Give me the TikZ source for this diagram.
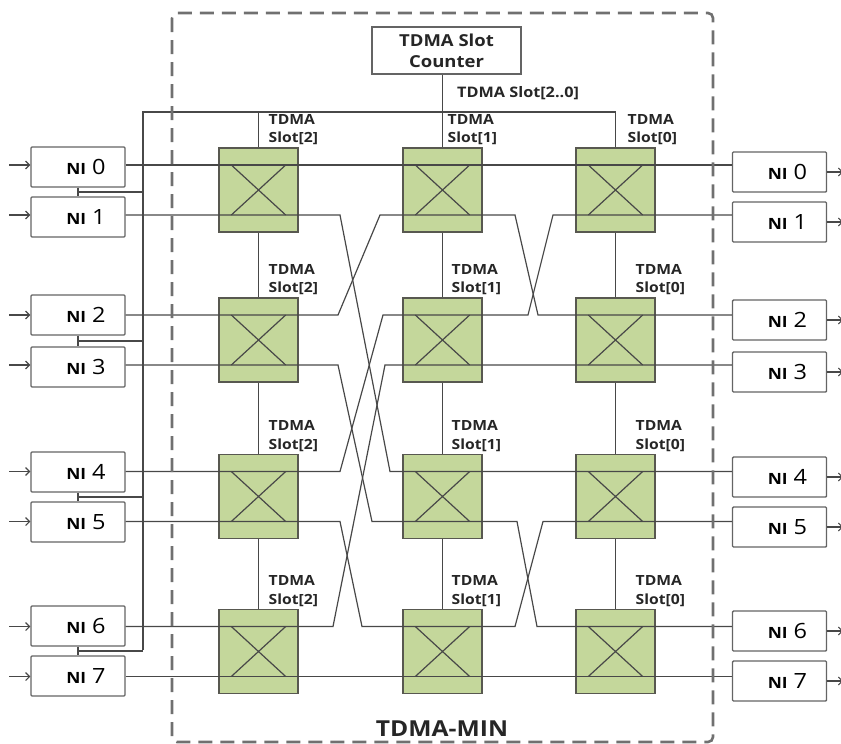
\documentclass[tikz,border=0pt]{standalone}
\usepackage{fontspec}
\setmainfont[FakeStretch=1.12]{Open Sans}
\usetikzlibrary{calc,arrows.meta}
\definecolor{swgreen}{RGB}{196,215,155}
\definecolor{wirec}{RGB}{72,72,72}
\definecolor{swborder}{RGB}{88,88,80}
\definecolor{boxc}{RGB}{100,100,100}
\definecolor{dashc}{RGB}{112,112,112}
\definecolor{txtc}{RGB}{38,38,38}
\newcommand{\NIlabel}[1]{\hspace*{16pt}{\fontsize{15.5}{15.5}\selectfont\bfseries NI}\hspace{6pt}{\fontsize{21}{21}\selectfont #1}}
\begin{document}
\begin{tikzpicture}[x=1pt,y=-1pt,
 wire/.style={draw=wirec,line width=1.2pt},
 swbox/.style={draw=swborder,fill=swgreen,line width=1.4pt,minimum width=79pt,minimum height=84pt,inner sep=0pt},
 nibox/.style={draw=boxc,fill=white,line width=1.4pt,minimum width=94pt,minimum height=40pt,inner sep=0pt,rounded corners=1pt},
 slotlbl/.style={font=\fontsize{14}{18.5}\selectfont\bfseries,text=txtc,align=left,anchor=south west,inner sep=0pt},
 inarrow/.style={draw=wirec,line width=1.1pt,-{Straight Barb[length=4pt,width=8pt]}},
]
\useasboundingbox (0,0) rectangle (841,744);

% line levels
\foreach \j/\y in {0/165,1/215,2/315,3/365,4/471.5,5/521.5,6/626.5,7/676.5}
  \coordinate (L\j) at (0,\y);

% counter
\node[draw=boxc,line width=1.4pt,fill=white,minimum width=149pt,minimum height=47pt,inner sep=0pt,align=center,font=\fontsize{16.5}{21}\selectfont\bfseries,text=txtc] (cnt) at (446.5,50.5) {TDMA Slot\\Counter};

% switches
\foreach \r/\y in {0/190,1/340,2/496.5,3/651.5}
  \foreach \c/\x in {1/258.5,2/442.5,3/615.5}
    \node[swbox] (s\r\c) at (\x,\y) {};

% NI boxes
\foreach \j/\y in {0/167,1/217,2/315,3/367,4/472,5/522,6/626,7/676}
  \node[nibox] (nl\j) at (78,\y) {\NIlabel{\j}};
\foreach \j/\y in {0/172,1/222,2/320,3/372,4/477,5/527,6/631,7/681}
  \node[nibox] (nr\j) at (779.5,\y) {\NIlabel{\j}};

% slot bus
\coordinate (bt) at (143,112);
\coordinate (bb) at (143,650);
\draw[wire] (s02.north |- cnt.south) -- (s02.north);
\draw[wire] (bb) -- (bt) -- (bt -| s03.north) -- (s03.north);
\draw[wire] (bt -| s01.north) -- (s01.north);
\foreach \c in {1,2,3}
  \foreach \r/\n in {0/1,1/2,2/3}
    \draw[wire] (s\r\c.south) -- (s\n\c.north);
\foreach \a/\b in {0/1,2/3,4/5,6/7}{
  \coordinate (j\a) at ($(nl\a.south)!.5!(nl\b.north)$);
  \draw[wire] (nl\a.south) -- (nl\b.north);
  \draw[wire] (j\a) -- (j\a -| bt);
}

% crosses in switches
\foreach \r/\a/\b in {0/0/1,1/2/3,2/4/5,3/6/7}
  \foreach \c in {1,2,3}{
    \draw[wire] ($(s\r\c.west |- L\a)+(13,0)$) -- ($(s\r\c.east |- L\b)+(-13,0)$);
    \draw[wire] ($(s\r\c.west |- L\b)+(13,0)$) -- ($(s\r\c.east |- L\a)+(-13,0)$);
  }

% wires
\draw[wire] (nl0.east |- L0) -- (nr0.west |- L0);
\draw[wire] (nl1.east |- L1) -- (340,215) -- (390,471.5) -- (nr4.west |- L4);
\draw[wire] (nl2.east |- L2) -- (338,315) -- (380,215) -- (515,215) -- (538,315) -- (nr2.west |- L2);
\draw[wire] (nl3.east |- L3) -- (338,365) -- (372,521.5) -- (517,521.5) -- (537,626.5) -- (nr6.west |- L6);
\draw[wire] (nl4.east |- L4) -- (340,471.5) -- (383,315) -- (528,315) -- (553,215) -- (nr1.west |- L1);
\draw[wire] (nl5.east |- L5) -- (340,521.5) -- (362,626.5) -- (515,626.5) -- (543,521.5) -- (nr5.west |- L5);
\draw[wire] (nl6.east |- L6) -- (333,626.5) -- (385,365) -- (nr3.west |- L3);
\draw[wire] (nl7.east |- L7) -- (nr7.west |- L7);

% io arrows
\foreach \j in {0,...,7}{
  \draw[inarrow] ($(nl\j.west |- L\j)+(-21,0)$) -- (nl\j.west |- L\j);
  \draw[inarrow] (nr\j.east) -- ++(16,0);
}

% slot labels
\foreach \r in {0,1,2,3}
  \node[slotlbl] at ($(s\r1.north)+(10,-2)$) {TDMA\\Slot[2]};
\node[slotlbl] at ($(s02.north)+(5,-2)$) {TDMA\\Slot[1]};
\foreach \r in {1,2,3}
  \node[slotlbl] at ($(s\r2.north)+(9,-2)$) {TDMA\\Slot[1]};
\node[slotlbl] at ($(s03.north)+(12,-2)$) {TDMA\\Slot[0]};
\foreach \r in {1,2,3}
  \node[slotlbl] at ($(s\r3.north)+(20,-2)$) {TDMA\\Slot[0]};

\node[font=\fontsize{14.5}{16}\selectfont\bfseries,text=txtc,anchor=west,inner sep=0pt] (busl) at (457,93) {TDMA Slot[2..0]};

% frame
\draw[dashc,line width=2.6pt,dash pattern=on 14pt off 8pt,rounded corners=5pt] (172,13) rectangle (713,742);
\node[font=\fontsize{22}{24}\selectfont\bfseries,text=txtc,inner sep=0pt] (minl) at (442,729) {TDMA-MIN};
\end{tikzpicture}
\end{document}
